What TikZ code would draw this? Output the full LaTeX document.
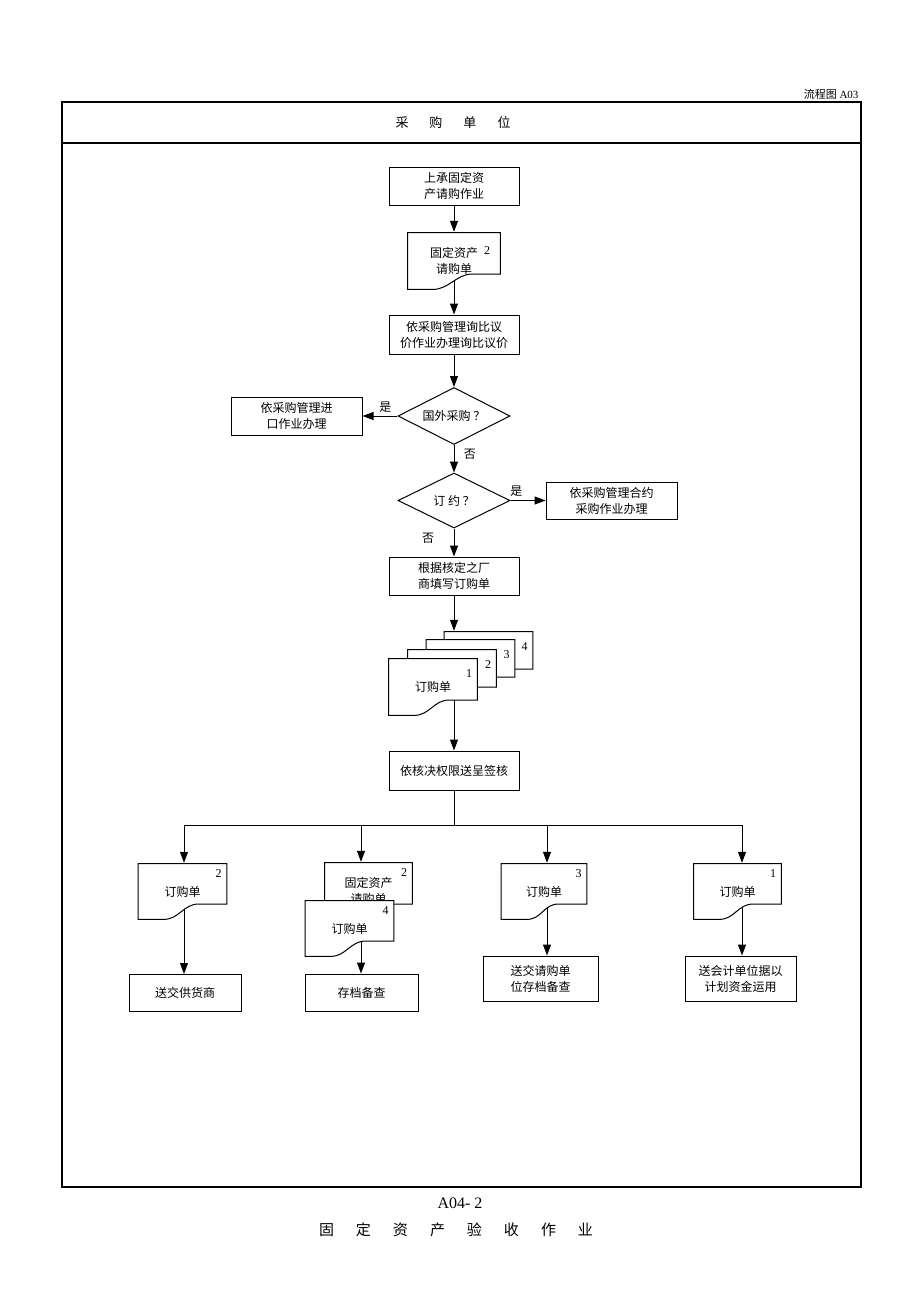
\documentclass[tikz,border=0pt]{standalone}
\usepackage{fontspec}
\setmainfont{Liberation Serif}
\newfontfamily\cjk{Noto Sans CJK SC}
\usetikzlibrary{arrows.meta,shapes.geometric}
\pgfdeclarelayer{background}
\pgfsetlayers{background,main}

\begin{document}
\begin{tikzpicture}[
  x=1pt, y=-1pt,
  every node/.style={font=\cjk\fontsize{12}{16}\selectfont},
  flow/.style={draw=black,line width=1pt,-{Triangle[length=11pt,width=8pt]}},
  proc/.style={draw=black,line width=1pt,align=center,inner sep=2pt,
    minimum width=130pt,minimum height=38pt},
  ask/.style={draw=black,line width=1pt,diamond,aspect=2,inner sep=0pt,
    minimum width=112pt,minimum height=57pt},
  docline/.style={draw=black,fill=white,line width=1pt},
  docu/.style={align=center,inner sep=2pt,minimum width=90pt,minimum height=58pt,
    path picture={
      \filldraw[docline] ([shift={(.6pt,-.6pt)}]path picture bounding box.north west)
        -- ([shift={(-.6pt,-.6pt)}]path picture bounding box.north east)
        -- ([shift={(-.6pt,16pt)}]path picture bounding box.south east)
        -- ++(-28pt,0pt) .. controls +(-16pt,0pt) and +(16pt,0pt) ..
           ([shift={(26pt,.6pt)}]path picture bounding box.south west)
        -- ([shift={(.6pt,.6pt)}]path picture bounding box.south west) -- cycle;
    }},
  num/.style={anchor=north east,inner sep=0pt,xshift=-6pt,yshift=-7pt,
    font=\rmfamily\fontsize{12}{14}\selectfont}
]
  \useasboundingbox (0,0) rectangle (920,1302);

  % frame
  \draw[line width=1.2pt] (62,102) rectangle (861,1187);
  \draw[line width=1.1pt] (62,143) -- (861,143);
  \node (tag) [anchor=east,font=\rmfamily\fontsize{11}{13}\selectfont] at (862,94) {{\cjk 流程图} A03};
  \node (title) [font=\cjk\fontsize{13}{16}\selectfont] at (453,123)
    {采\hspace{21pt}购\hspace{21pt}单\hspace{21pt}位};

  % main column
  \node[proc] (b1) at (454,186) {上承固定资\\产请购作业};
  \node[docu,minimum width=94pt,label={[num,xshift=-5pt,yshift=-8pt]north east:2}] (d1) at (454,261) {固定资产\\请购单};
  \node[proc,minimum height=39pt] (b2) at (454,334.5) {依采购管理询比议\\价作业办理询比议价};
  \node[ask] (q1) at (454,416) {国外采购 ？};
  \node[proc,minimum width=131pt] (b3) at (296.5,416) {依采购管理进\\口作业办理};
  \node[ask,minimum height=55pt] (q2) at (454,500.5) {订 约 ？};
  \node[proc,minimum width=131pt,minimum height=37pt] (b4) at (611.5,500.5) {依采购管理合约\\采购作业办理};
  \node[proc] (b5) at (454,576) {根据核定之厂\\商填写订购单};

  \node[docu,minimum height=54pt,label={[num,yshift=-5pt]north east:4}] (s4) at (488.5,658) {};
  \node[docu,minimum height=54pt,label={[num,yshift=-5pt]north east:3}] (s3) at (470.5,666) {};
  \node[docu,minimum height=54pt,label={[num,yshift=-5pt]north east:2}] (s2) at (452,676) {};
  \node[docu,label={[num,yshift=-5pt]north east:1}] (s1) at (433,687) {订购单};

  \node[proc,minimum height=39pt] (b6) at (454,770.5) {依核决权限送呈签核};

  % branches
  \coordinate (bus) at (454,825);
  \coordinate (tA) at (184,825);
  \coordinate (tB) at (361,825);
  \coordinate (tC) at (547,825);
  \coordinate (tD) at (742,825);

  \node[docu,minimum height=57pt,label={[num]north east:2}] (dA) at (182.5,891.5) {订购单};
  \node[proc,minimum width=112pt,minimum height=37pt] (bA) at (185,993) {送交供货商};

  \node[docu,minimum width=89pt,label={[num]north east:2}] (dB2) at (368.5,891) {固定资产\\请购单};
  \node[docu,minimum height=57pt,label={[num]north east:4}] (dB1) at (349.5,928.5) {订购单};
  \node[proc,minimum width=113pt,minimum height=37pt] (bB) at (361.5,992.5) {存档备查};

  \node[docu,minimum width=87pt,minimum height=57pt,label={[num]north east:3}] (dC) at (544,891.5) {订购单};
  \node[proc,minimum width=115pt,minimum height=45pt] (bC) at (540.5,978.5) {送交请购单\\位存档备查};

  \node[docu,minimum width=89pt,minimum height=57pt,label={[num]north east:1}] (dD) at (737.5,891.5) {订购单};
  \node[proc,minimum width=111pt,minimum height=45pt] (bD) at (740.5,978.5) {送会计单位据以\\计划资金运用};

  % footer
  \node (code) [font=\rmfamily\fontsize{16}{18}\selectfont] at (460,1203) {A04- 2};
  \node (name) [font=\cjk\fontsize{15}{18}\selectfont] at (456,1230)
    {固\hspace{22pt}定\hspace{22pt}资\hspace{22pt}产\hspace{22pt}验\hspace{22pt}收\hspace{22pt}作\hspace{22pt}业};

  \begin{pgfonlayer}{background}
    \draw[flow] (b1) -- (d1);
    \draw[flow] (d1.center) -- (b2);
    \draw[flow] (b2) -- (q1);
    \draw[flow] (q1) -- node[pos=.35,above] (y1) {是} (b3);
    \draw[flow] (q1) -- node[pos=.35,right=6pt] (n1) {否} (q2);
    \draw[flow] (q2) -- node[pos=.17,above] (y2) {是} (b4);
    \draw[flow] (q2) -- node[pos=.35,left=16pt] (n2) {否} (b5);
    \draw[flow] (b5) -- (b5 |- s4.north);
    \draw[flow] (s1.center -| b6) -- (b6);

    \draw[line width=1pt] (b6) -- (bus);
    \draw[line width=1pt] (tA) -- (tD);
    \draw[flow] (tA) -- (tA |- dA.north);
    \draw[flow] (tA |- dA.center) -- (tA |- bA.north);
    \draw[flow] (tB) -- (tB |- dB2.north);
    \draw[flow] (tB |- dB1.center) -- (tB |- bB.north);
    \draw[flow] (tC) -- (tC |- dC.north);
    \draw[flow] (tC |- dC.center) -- (tC |- bC.north);
    \draw[flow] (tD) -- (tD |- dD.north);
    \draw[flow] (tD |- dD.center) -- (tD |- bD.north);
  \end{pgfonlayer}
\end{tikzpicture}
\end{document}
